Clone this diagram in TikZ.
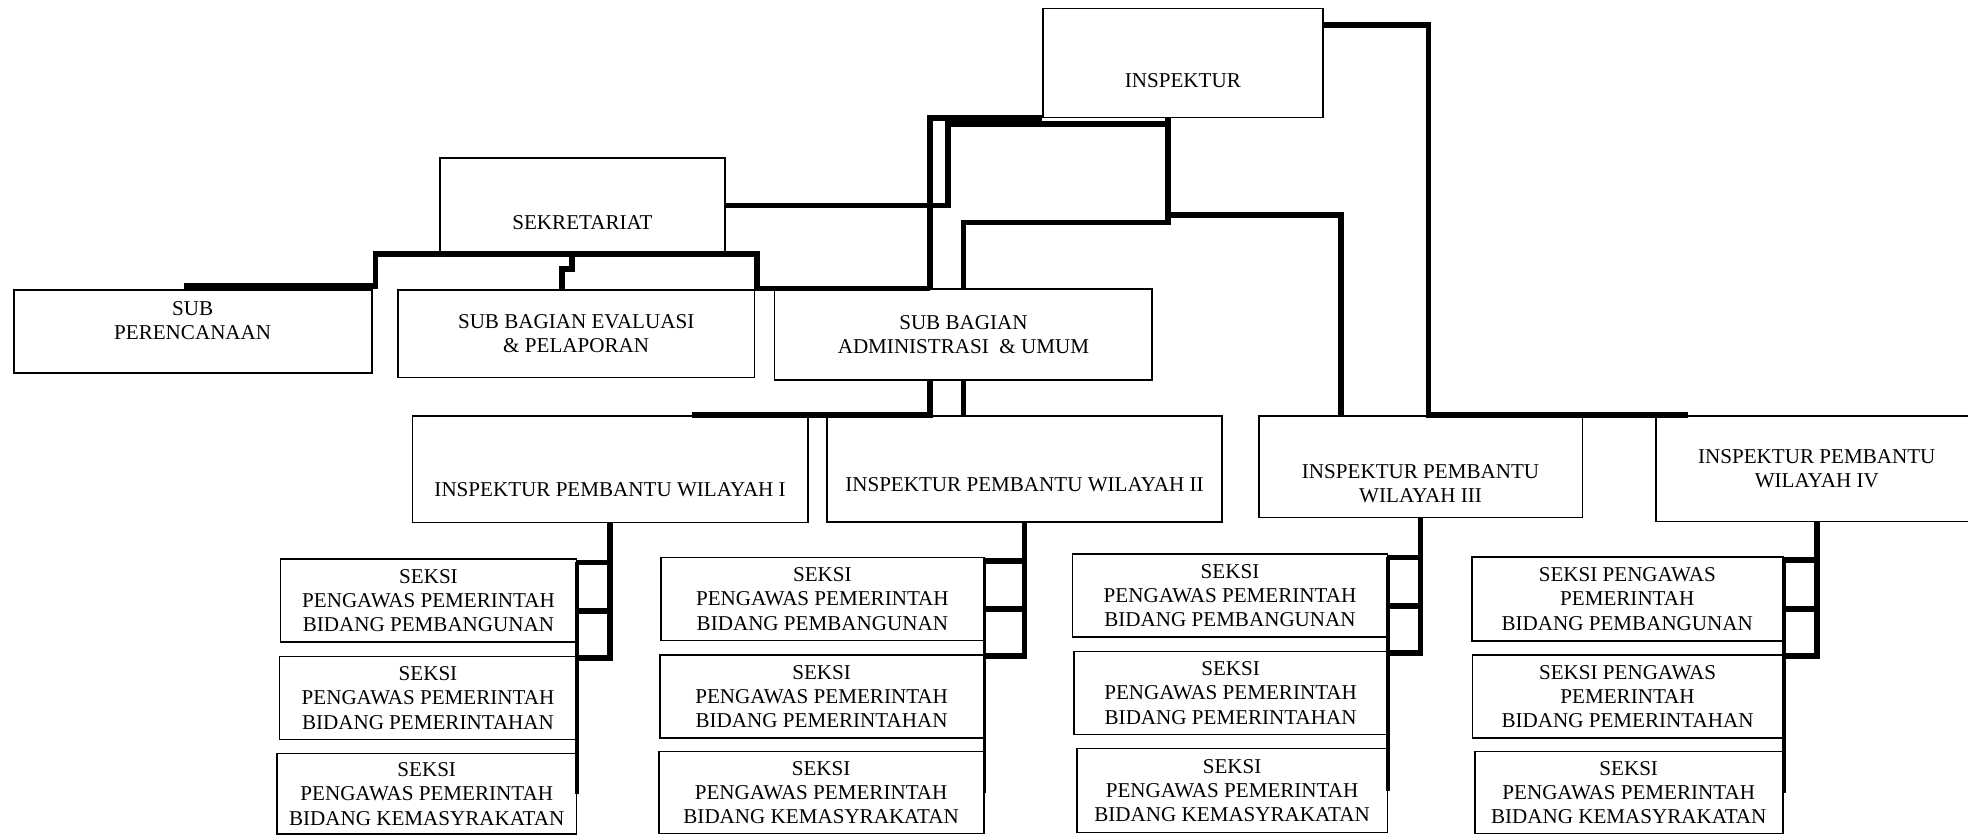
\documentclass[tikz,border=0pt]{standalone}
\usepackage{fontspec}
\setmainfont{Liberation Serif}

\begin{document}
\begin{tikzpicture}[
		box/.style={draw, line width=0.5pt, anchor=north west, align=center, inner sep=0pt, font=\fontsize{6}{6.9}\selectfont},
		seksi/.style={box, anchor=north east, minimum height=0.83cm},
		conn/.style={line width=1.6pt},
		edge/.style={line width=1.1pt}]
				\useasboundingbox (0,0) rectangle (19.68,-8.36);
				\clip (0,0) rectangle (19.68,-8.36);

				\path (10.42,-0.075) node[box, minimum width=2.80cm, minimum height=1.09cm, text height=14.3pt] (insp) {INSPEKTUR};
				\path (4.39,-1.568) node[box, minimum width=2.85cm, minimum height=0.957cm, text height=13.6pt] (sekr) {SEKRETARIAT};
				\path (0.128,-2.89) node[box, minimum width=3.58cm, minimum height=0.833cm, text depth=6.3pt] (perenc) {SUB\\PERENCANAAN};
				\path (3.97,-2.89) node[box, minimum width=3.566cm, minimum height=0.877cm] (evalu) {SUB BAGIAN EVALUASI\\\& PELAPORAN};
				\path (7.737,-2.883) node[box, minimum width=3.777cm, minimum height=0.91cm] (admin) {SUB BAGIAN\\ADMINISTRASI~ \& UMUM};

				\path (4.115,-4.15) node[box, minimum width=3.955cm, minimum height=1.067cm, text height=15.6pt] (ipw1) {INSPEKTUR PEMBANTU WILAYAH I};
				\path (8.259,-4.15) node[box, minimum width=3.953cm, minimum height=1.06cm, text height=12.8pt] (ipw2) {INSPEKTUR PEMBANTU WILAYAH II};
				\path (12.578,-4.15) node[box, minimum width=3.238cm, minimum height=1.017cm, text height=20.5pt] (ipw3) {INSPEKTUR PEMBANTU\\WILAYAH III};
				\path (16.548,-4.15) node[box, minimum width=3.222cm, minimum height=1.057cm] (ipw4) {INSPEKTUR PEMBANTU\\WILAYAH IV};

				\path (5.773,-5.583) node[seksi, minimum width=2.959cm] (s11) {SEKSI\\PENGAWAS PEMERINTAH\\BIDANG PEMBANGUNAN};
				\path (5.773,-6.557) node[seksi, minimum width=2.969cm] (s12) {SEKSI\\PENGAWAS PEMERINTAH\\BIDANG PEMERINTAHAN};
				\path (5.773,-7.527) node[seksi, minimum width=2.994cm, minimum height=0.806cm] (s13) {SEKSI\\PENGAWAS PEMERINTAH\\BIDANG KEMASYRAKATAN};
				\path (9.845,-5.567) node[seksi, minimum width=3.225cm] (s21) {SEKSI\\PENGAWAS PEMERINTAH\\BIDANG PEMBANGUNAN};
				\path (9.845,-6.54) node[seksi, minimum width=3.24cm] (s22) {SEKSI\\PENGAWAS PEMERINTAH\\BIDANG PEMERINTAHAN};
				\path (9.845,-7.507) node[seksi, minimum width=3.25cm, minimum height=0.82cm] (s23) {SEKSI\\PENGAWAS PEMERINTAH\\BIDANG KEMASYRAKATAN};
				\path (13.884,-5.533) node[seksi, minimum width=3.15cm] (s31) {SEKSI\\PENGAWAS PEMERINTAH\\BIDANG PEMBANGUNAN};
				\path (13.884,-6.507) node[seksi, minimum width=3.138cm] (s32) {SEKSI\\PENGAWAS PEMERINTAH\\BIDANG PEMERINTAHAN};
				\path (13.884,-7.477) node[seksi, minimum width=3.109cm, minimum height=0.84cm] (s33) {SEKSI\\PENGAWAS PEMERINTAH\\BIDANG KEMASYRAKATAN};
				\path (17.836,-5.56) node[seksi, minimum width=3.109cm, minimum height=0.84cm] (s41) {SEKSI PENGAWAS\\PEMERINTAH\\BIDANG PEMBANGUNAN};
				\path (17.836,-6.54) node[seksi, minimum width=3.103cm] (s42) {SEKSI PENGAWAS\\PEMERINTAH\\BIDANG PEMERINTAHAN};
				\path (17.836,-7.507) node[seksi, minimum width=3.08cm, minimum height=0.82cm] (s43) {SEKSI\\PENGAWAS PEMERINTAH\\BIDANG KEMASYRAKATAN};

				% inspektur
				\path[draw,conn] ([yshift=-1.75mm]insp.north east) -| ([xshift=0.8mm]ipw3.north) -- ([xshift=3.3mm]ipw4.north west);
				\path[draw,conn] ([xshift=-1.5mm]insp.south) -- ++(0,-0.97) -| ([xshift=8.3mm]ipw3.north west);
				\path[draw,conn] ([xshift=-1.5mm]insp.south) |- ([yshift=6.6mm]admin.north) -- (admin.north);
				\path[draw,conn] (insp.south west) -| ([xshift=-3.35mm]admin.north);
				\path[draw,conn] (sekr.east) -- ++(2.22,0) |- ([xshift=-1.5mm,yshift=-0.6mm]insp.south);

				% sekretariat
				\path[draw,conn] ([xshift=-0.9mm,yshift=0.3mm]perenc.north) -- ++(1.92,0) |- (sekr.south east) -- ++(0.31,0) |- ([xshift=-3.35mm]admin.north);
				\path[draw,conn] ([xshift=-0.4mm]evalu.north |- sekr.south) -- ++(0,-0.15) -| ([xshift=-1.4mm]evalu.north);

				% sub bagian umum
				\path[draw,conn] (admin.south) -- (admin.south |- ipw2.north);
				\path[draw,conn] ([xshift=-3.35mm]admin.south) |- ([xshift=8.2mm]ipw1.north);

				% seksi
				\path[draw,conn] (ipw1.south) |- ([yshift=-0.4mm]s11.north east);
				\path[draw,conn] (ipw1.south) |- ([yshift=-1mm]s11.east);
				\path[draw,conn] (ipw1.south) |- ([yshift=-0.2mm]s12.north east);
				\path[draw,edge] ([yshift=-0.4mm]s11.north east) -- (s13.east);

				\path[draw,conn] (ipw2.south) |- ([yshift=-0.4mm]s21.north east);
				\path[draw,conn] (ipw2.south) |- ([yshift=-1mm]s21.east);
				\path[draw,conn] (ipw2.south) |- ([yshift=-0.2mm]s22.north east);
				\path[draw,edge] ([yshift=-0.4mm]s21.north east) -- (s23.east);

				\path[draw,conn] (ipw3.south) |- ([yshift=-0.4mm]s31.north east);
				\path[draw,conn] (ipw3.south) |- ([yshift=-1mm]s31.east);
				\path[draw,conn] (ipw3.south) |- ([yshift=-0.2mm]s32.north east);
				\path[draw,edge] ([yshift=-0.4mm]s31.north east) -- (s33.east);

				\path[draw,conn] (ipw4.south) |- ([yshift=-0.4mm]s41.north east);
				\path[draw,conn] (ipw4.south) |- ([yshift=-1mm]s41.east);
				\path[draw,conn] (ipw4.south) |- ([yshift=-0.2mm]s42.north east);
				\path[draw,edge] ([yshift=-0.4mm]s41.north east) -- (s43.east);
			\end{tikzpicture}
\end{document}
